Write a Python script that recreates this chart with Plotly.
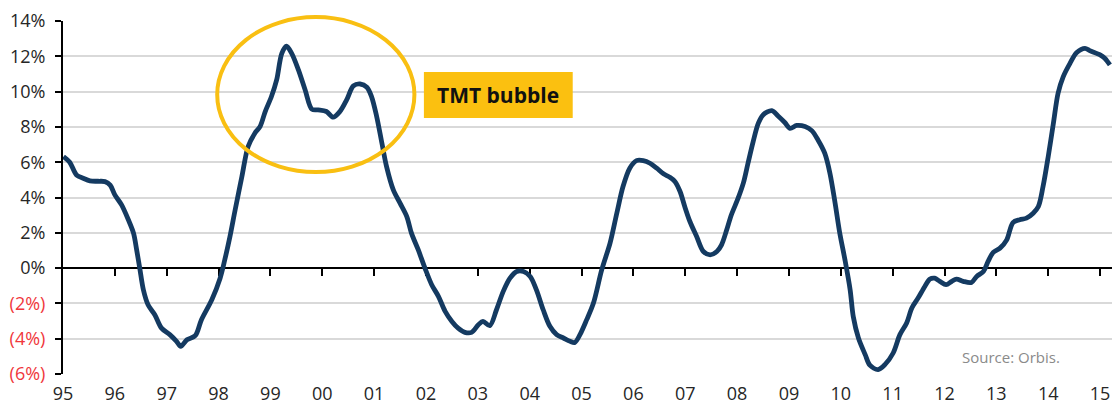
import plotly.graph_objects as go

# year fraction and growth rate (%)
years = [1995.01, 1995.13, 1995.26, 1995.39, 1995.52, 1995.68, 1995.81, 1995.91,
         1996.00, 1996.13, 1996.26, 1996.36, 1996.42, 1996.48, 1996.55, 1996.64,
         1996.77, 1996.90, 1997.06, 1997.19, 1997.27, 1997.39, 1997.55, 1997.67,
         1997.87, 1998.03, 1998.12, 1998.22, 1998.32, 1998.45, 1998.57, 1998.70,
         1998.80, 1998.90, 1999.02, 1999.12, 1999.22, 1999.31, 1999.41, 1999.54,
         1999.67, 1999.80, 1999.92, 2000.08, 2000.21, 2000.34, 2000.47, 2000.60,
         2000.73, 2000.86, 2000.95, 2001.05, 2001.15, 2001.24, 2001.37, 2001.50,
         2001.63, 2001.72, 2001.85, 2001.98, 2002.11, 2002.24, 2002.37, 2002.50,
         2002.62, 2002.75, 2002.88, 2003.01, 2003.10, 2003.23, 2003.36, 2003.49,
         2003.62, 2003.75, 2003.88, 2004.01, 2004.13, 2004.26, 2004.39, 2004.52,
         2004.65, 2004.78, 2004.87, 2004.97, 2005.10, 2005.23, 2005.39, 2005.55,
         2005.68, 2005.80, 2005.93, 2006.06, 2006.19, 2006.32, 2006.45, 2006.58,
         2006.70, 2006.80, 2006.90, 2006.99, 2007.09, 2007.22, 2007.35, 2007.48,
         2007.61, 2007.70, 2007.80, 2007.89, 2008.02, 2008.12, 2008.21, 2008.31,
         2008.41, 2008.50, 2008.67, 2008.79, 2008.92, 2009.02, 2009.15, 2009.31,
         2009.44, 2009.56, 2009.69, 2009.79, 2009.89, 2009.98, 2010.08, 2010.18,
         2010.24, 2010.34, 2010.47, 2010.56, 2010.72, 2010.85, 2011.01, 2011.14,
         2011.27, 2011.37, 2011.49, 2011.62, 2011.72, 2011.81, 2011.91, 2012.03,
         2012.14, 2012.23, 2012.36, 2012.52, 2012.62, 2012.75, 2012.84, 2012.94,
         2013.07, 2013.20, 2013.32, 2013.45, 2013.58, 2013.71, 2013.81, 2013.90,
         2014.00, 2014.10, 2014.19, 2014.29, 2014.42, 2014.55, 2014.71, 2014.80,
         2015.00, 2015.09, 2015.19]
growth = [6.32, 6.00, 5.28, 5.09, 4.94, 4.92, 4.90, 4.70,
          4.15, 3.58, 2.74, 1.98, 1.04, 0.00, -1.23, -2.08,
          -2.64, -3.40, -3.77, -4.15, -4.43, -4.06, -3.83, -2.92,
          -1.79, -0.57, 0.47, 1.79, 3.30, 5.19, 6.89, 7.64,
          8.02, 8.87, 9.72, 10.66, 12.17, 12.58, 12.17, 11.23,
          10.09, 9.00, 8.96, 8.87, 8.55, 8.87, 9.53, 10.32,
          10.43, 10.25, 9.72, 8.58, 7.08, 5.75, 4.43, 3.68,
          2.92, 1.98, 1.04, 0.00, -0.94, -1.60, -2.45, -3.02,
          -3.40, -3.64, -3.64, -3.21, -3.02, -3.26, -2.36, -1.32,
          -0.57, -0.19, -0.19, -0.47, -1.23, -2.36, -3.30, -3.77,
          -3.96, -4.15, -4.21, -3.77, -2.92, -1.98, -0.09, 1.42,
          3.11, 4.62, 5.66, 6.09, 6.09, 5.94, 5.66, 5.34,
          5.15, 4.91, 4.34, 3.49, 2.64, 1.79, 0.94, 0.75,
          0.94, 1.32, 2.17, 3.02, 3.96, 4.81, 5.94, 7.17,
          8.21, 8.68, 8.92, 8.62, 8.25, 7.92, 8.08, 8.02,
          7.79, 7.26, 6.51, 5.38, 3.68, 1.98, 0.47, -1.23,
          -2.74, -3.96, -4.90, -5.50, -5.75, -5.47, -4.81, -3.77,
          -3.11, -2.26, -1.70, -1.04, -0.62, -0.57, -0.75, -0.94,
          -0.75, -0.62, -0.75, -0.81, -0.47, -0.19, 0.38, 0.89,
          1.13, 1.60, 2.58, 2.74, 2.83, 3.11, 3.49, 4.62,
          6.32, 8.21, 9.91, 10.85, 11.60, 12.21, 12.45, 12.32,
          12.08, 11.89, 11.51]

x_tick_years = [1995, 1996, 1997, 1998, 1999, 2000, 2001, 2002, 2003, 2004, 2005,
                2006, 2007, 2008, 2009, 2010, 2011, 2012, 2013, 2014, 2015]
x_tick_labels = ['95', '96', '97', '98', '99', '00', '01', '02', '03', '04', '05',
                 '06', '07', '08', '09', '10', '11', '12', '13', '14', '15']
y_tick_vals = [-6, -4, -2, 0, 2, 4, 6, 8, 10, 12, 14]
y_tick_labels = ['(6%)', '(4%)', '(2%)', '0%', '2%', '4%', '6%', '8%', '10%', '12%', '14%']

x_min, x_max = 1995, 2015.23
y_min, y_max = -6, 14

neg_red = '#f0373c'
ytext = [f"<span style='color:{neg_red}'>{t}</span>" if v < 0 else t
         for v, t in zip(y_tick_vals, y_tick_labels)]

fig = go.Figure()
fig.add_trace(go.Scatter(x=years, y=growth, mode='lines',
                         line=dict(color='#143a61', width=4.8, shape='spline', smoothing=0.9),
                         hoverinfo='skip', showlegend=False))
# helper trace for the axis carrying tick marks on the zero line
fig.add_trace(go.Scatter(x=[x_min], y=[0], xaxis='x2', mode='markers',
                         marker=dict(size=0.1, opacity=0), showlegend=False, hoverinfo='skip'))

fig.update_layout(
    width=1117, height=408,
    margin=dict(l=63, r=5, t=21, b=34),
    paper_bgcolor='white', plot_bgcolor='white',
    font=dict(family='Open Sans', size=18, color='#262626'),
    xaxis=dict(range=[x_min, x_max], tickvals=x_tick_years, ticktext=x_tick_labels,
               showgrid=False, zeroline=False, showline=False, ticks='', automargin=False,
               ticklabelstandoff=7, tickfont=dict(size=18, color='#262626')),
    xaxis2=dict(range=[x_min, x_max], overlaying='x', anchor='free', position=(0 - y_min) / (y_max - y_min),
                tickvals=x_tick_years[1:], showticklabels=False, showgrid=False, zeroline=False,
                showline=False, ticks='outside', ticklen=7, tickwidth=2, tickcolor='black',
                automargin=False, layer='below traces'),
    yaxis=dict(range=[y_min, y_max], tickvals=y_tick_vals, ticktext=ytext, automargin=False,
               showgrid=True, gridcolor='#d9d9d9', gridwidth=1.6,
               zeroline=True, zerolinecolor='black', zerolinewidth=2,
               showline=True, linecolor='black', linewidth=2,
               ticks='outside', ticklen=6, tickwidth=2, tickcolor='black',
               ticklabelstandoff=6, tickfont=dict(size=18, color='#262626')),
)

# ellipse around the bubble peaks (paper coordinates so its top is not clipped)
fig.add_shape(type='circle', xref='paper', yref='paper',
              x0=0.147, x1=0.335, y0=0.572, y1=1.011,
              line=dict(color='#f9bf12', width=4))

# label box
fig.add_shape(type='rect', xref='x', yref='y', x0=2001.96, x1=2004.83, y0=8.51, y1=11.11,
              fillcolor='#fbc010', line=dict(width=0), layer='above')
fig.add_annotation(x=2003.395, y=9.81, xref='x', yref='y', text='<b>TMT bubble</b>',
                   showarrow=False, font=dict(family='Open Sans', size=21, color='#111111'))

fig.add_annotation(x=2013.28, y=-5.05, xref='x', yref='y', text='Source: Orbis.',
                   showarrow=False, font=dict(family='Open Sans', size=15, color='#8a8a8a'))

fig.write_html('out.html', config={'displayModeBar': False},
               post_script="document.body.style.margin='0px';")
